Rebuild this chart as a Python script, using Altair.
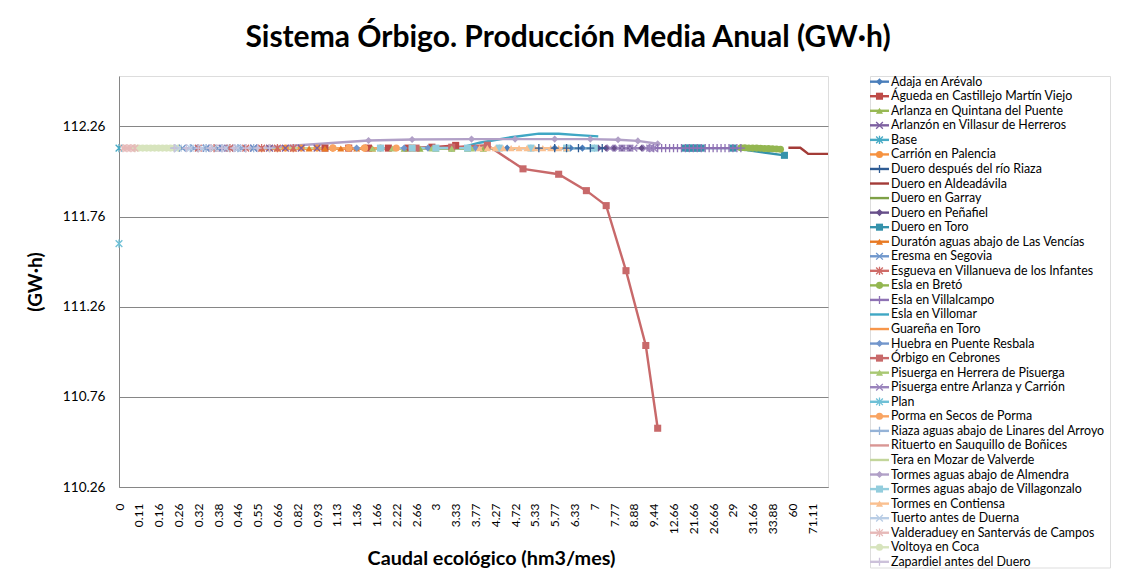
import altair as alt
import pandas as pd

# ---------------- data ----------------
series = [
    "Adaja en Arévalo", "Águeda en Castillejo Martín Viejo", "Arlanza en Quintana del Puente",
    "Arlanzón en Villasur de Herreros", "Base", "Carrión en Palencia",
    "Duero después del río Riaza", "Duero en Aldeadávila", "Duero en Garray",
    "Duero en Peñafiel", "Duero en Toro", "Duratón aguas abajo de Las Vencías",
    "Eresma en Segovia", "Esgueva en Villanueva de los Infantes", "Esla en Bretó",
    "Esla en Villalcampo", "Esla en Villomar", "Guareña en Toro",
    "Huebra en Puente Resbala", "Órbigo en Cebrones", "Pisuerga en Herrera de Pisuerga",
    "Pisuerga entre Arlanza y Carrión", "Plan", "Porma en Secos de Porma",
    "Riaza aguas abajo de Linares del Arroyo", "Rituerto en Sauquillo de Boñices",
    "Tera en Mozar de Valverde", "Tormes aguas abajo de Almendra",
    "Tormes aguas abajo de Villagonzalo", "Tormes en Contiensa", "Tuerto antes de Duerna",
    "Valderaduey en Santervás de Campos", "Voltoya en Coca", "Zapardiel antes del Duero",
]

colores = [
    "#4A7EBB", "#BE4B48", "#98B954", "#7D60A0", "#46AAC5", "#F69240",
    "#2F5C94", "#A33B37", "#7EA046", "#674F8A", "#3592AB", "#E87A24",
    "#6F97CC", "#CF6B67", "#93B650", "#8E72B4", "#3FA7C4", "#F7964A",
    "#7296CC", "#C8696A", "#A9C873", "#9A84BC", "#6FC0D6", "#F9A462",
    "#95B3D7", "#D99694", "#C3D69B", "#B1A0C7", "#93CDDD", "#FAC090",
    "#B9CDE5", "#E6B9B8", "#D7E4BD", "#CCC1DA",
]

marcadores = [
    "diamond", "square", "triangle", "x", "asterisk", "circle", "plus", "dash", "none",
    "diamond", "square", "triangle", "x", "asterisk", "circle", "plus", "dash", "none",
    "diamond", "square", "triangle", "x", "asterisk", "circle", "plus", "dash", "none",
    "diamond", "square", "triangle", "x", "asterisk", "circle", "plus",
]

# category position (index on the category axis) of each point of each series
indices = [
    [98, 104, 110, 114, 117, 120],
    [52, 58, 63, 68, 73, 79, 85],
    [72, 76, 80, 84, 88, 92],
    [22, 26, 30, 34, 38, 42, 46, 50],
    [0],
    [38, 42, 46, 50, 54, 58, 62],
    [106, 110, 113, 116, 119, 122],
    [169, 170, 171, 172, 173, 174, 175, 176, 177, 178, 179],
    [78, 84, 90, 96, 100],
    [121, 123, 125, 127, 129, 132],
    [143, 144, 145, 146, 147, 155, 168],
    [36, 40, 44, 48, 52, 56, 60, 64],
    [16, 19, 22, 25, 28, 31, 34],
    [20, 24, 28, 32, 36, 40, 44],
    [157, 158, 159, 160, 161, 162, 163, 164, 165, 166, 167],
    [134, 135, 136, 137, 138, 139, 140, 141, 142, 143, 144, 145, 146, 147, 148, 149,
     150, 151, 152, 153, 154, 155, 156, 157],
    [60, 75, 87, 91, 99, 106, 111, 116, 121],
    [40, 50, 60, 70, 80, 90],
    [60, 66, 72, 78, 84, 90, 96],
    [75, 84, 93, 102, 111, 118, 123, 128, 133, 136],
    [64, 69, 74, 79, 84, 89],
    [124, 126, 127, 128, 129, 130, 133, 134, 135],
    [0],
    [54, 58, 62, 66, 70, 74],
    [14, 18, 22, 26, 30, 34, 38],
    [15, 25, 35, 45],
    [15, 25, 35, 45, 55],
    [15, 27, 38, 63, 74, 89, 100, 110, 119, 126, 131, 136],
    [66, 74, 80, 88, 96, 104, 113, 120],
    [91, 93, 95, 97, 99, 101, 103, 105, 107, 109, 111, 113],
    [15, 18, 21, 24, 27, 30],
    [1, 2, 3, 4],
    [4, 5, 6, 7, 8, 9, 10, 11, 12, 13, 14, 15],
    [14, 17, 20, 23, 26, 29, 32, 35, 38],
]

valores = [
    [112.14, 112.14, 112.14, 112.14, 112.14, 112.14],
    [112.14, 112.14, 112.14, 112.14, 112.14, 112.145, 112.155],
    [112.137, 112.137, 112.137, 112.137, 112.137, 112.137],
    [112.14, 112.14, 112.14, 112.14, 112.14, 112.14, 112.14, 112.14],
    [112.14],
    [112.14, 112.14, 112.14, 112.14, 112.14, 112.14, 112.14],
    [112.14, 112.14, 112.14, 112.14, 112.14, 112.14],
    [112.142, 112.142, 112.142, 112.142, 112.125, 112.108, 112.108, 112.108, 112.108,
     112.108, 112.108],
    [112.138, 112.138, 112.138, 112.138, 112.138],
    [112.14, 112.14, 112.14, 112.14, 112.14, 112.14],
    [112.14, 112.14, 112.14, 112.14, 112.14, 112.14, 112.10],
    [112.138, 112.138, 112.138, 112.138, 112.138, 112.138, 112.138, 112.138],
    [112.14, 112.14, 112.14, 112.14, 112.14, 112.14, 112.14],
    [112.14, 112.14, 112.14, 112.14, 112.14, 112.14, 112.14],
    [112.142, 112.142, 112.141, 112.14, 112.14, 112.139, 112.138, 112.137, 112.136,
     112.135, 112.134],
    [112.14, 112.14, 112.14, 112.14, 112.14, 112.14, 112.14, 112.14, 112.14, 112.14,
     112.14, 112.14, 112.14, 112.14, 112.14, 112.14, 112.14, 112.14, 112.14, 112.14,
     112.14, 112.14, 112.14, 112.14],
    [112.14, 112.14, 112.147, 112.17, 112.2, 112.22, 112.22, 112.212, 112.205],
    [112.14, 112.14, 112.14, 112.14, 112.14, 112.14],
    [112.14, 112.14, 112.14, 112.14, 112.14, 112.14, 112.14],
    [112.14, 112.145, 112.156, 112.025, 111.995, 111.904, 111.821, 111.46, 111.045, 110.586],
    [112.138, 112.138, 112.138, 112.138, 112.138, 112.138],
    [112.14, 112.14, 112.14, 112.14, 112.14, 112.14, 112.14, 112.14, 112.14],
    [111.61],
    [112.14, 112.14, 112.14, 112.14, 112.14, 112.14],
    [112.14, 112.14, 112.14, 112.14, 112.14, 112.14, 112.14],
    [112.14, 112.14, 112.14, 112.14],
    [112.14, 112.14, 112.14, 112.14, 112.14],
    [112.14, 112.14, 112.145, 112.182, 112.188, 112.19, 112.19, 112.19, 112.19, 112.186,
     112.18, 112.164],
    [112.14, 112.14, 112.14, 112.14, 112.14, 112.14, 112.14, 112.14],
    [112.14, 112.14, 112.14, 112.14, 112.14, 112.14, 112.14, 112.14, 112.14, 112.14,
     112.14, 112.14],
    [112.14, 112.14, 112.14, 112.14, 112.14, 112.14],
    [112.14, 112.14, 112.14, 112.14],
    [112.14, 112.14, 112.14, 112.14, 112.14, 112.14, 112.14, 112.14, 112.14, 112.14,
     112.14, 112.14],
    [112.14, 112.14, 112.14, 112.14, 112.14, 112.14, 112.14, 112.14, 112.14],
]

# visible category labels (every 5th category)
etiquetas_x = [
    "0", "0.11", "0.16", "0.26", "0.32", "0.38", "0.46", "0.55", "0.66", "0.82", "0.93",
    "1.13", "1.36", "1.66", "2.22", "2.66", "3", "3.33", "3.77", "4.27", "4.72", "5.33",
    "5.77", "6.33", "7", "7.77", "8.88", "9.44", "12.66", "21.66", "26.66", "29", "31.66",
    "33.88", "60", "71.11",
]
n_categorias = 180
ticks_y = [110.26, 110.76, 111.26, 111.76, 112.26]

# ---------------- build tables ----------------
rows = []
for k, s in enumerate(series):
    for p, v in zip(indices[k], valores[k]):
        rows.append({"serie": s, "orden": k, "pos": p, "valor": v, "marcador": marcadores[k]})
df = pd.DataFrame(rows)
df_leg = pd.DataFrame({"serie": series, "orden": list(range(len(series))), "marcador": marcadores})

X_PATH = "M-1,-1L1,1M-1,1L1,-1"
AST_PATH = "M-1,-1L1,1M-1,1L1,-1M0,-1.25L0,1.25"
PLUS_PATH = "M-1.2,0L1.2,0M0,-1.2L0,1.2"
shape_map = {
    "diamond": "diamond", "square": "square", "triangle": "triangle-up", "circle": "circle",
    "x": X_PATH, "asterisk": AST_PATH, "plus": PLUS_PATH, "dash": "circle", "none": "circle",
}
shape_range = [shape_map[m] for m in marcadores]
FILLED = ["diamond", "square", "triangle", "circle"]
STROKED = ["x", "asterisk", "plus"]

color_scale = alt.Scale(domain=series, range=colores)
shape_scale = alt.Scale(domain=series, range=shape_range)
color_enc = alt.Color("serie:N", scale=color_scale, legend=None)
shape_enc = alt.Shape("serie:N", scale=shape_scale, legend=None)

FONT = "Lato"
label_expr = "[" + ",".join("'" + e + "'" for e in etiquetas_x) + "][round(datum.value / 5)]"

x_enc = alt.X(
    "pos:Q",
    scale=alt.Scale(domain=[0, n_categorias - 1], nice=False, zero=False),
    axis=alt.Axis(
        values=list(range(0, n_categorias, 5)), labelExpr=label_expr, labelAngle=270,
        ticks=False, grid=False, labelPadding=16, labelFontSize=12, labelFont=FONT,
        labelColor="#000000", domainColor="#868686", domainWidth=1,
        title="Caudal ecológico (hm3/mes)", titleFont=FONT, titleFontSize=19.8,
        titleFontWeight="bold", titleColor="#000000", titleX=372, titleY=71,
        titleBaseline="middle", titleAlign="center",
    ),
)
y_enc = alt.Y(
    "valor:Q",
    scale=alt.Scale(domain=[110.26, 112.54], nice=False, zero=False),
    axis=alt.Axis(
        values=ticks_y, format=".2f", ticks=False, labelPadding=14, labelFontSize=13.6,
        labelFont=FONT, labelColor="#000000", grid=True, gridColor="#868686", gridWidth=1,
        domainColor="#868686", domainWidth=1,
        title="(GW·h)", titleFont=FONT, titleFontSize=19, titleFontWeight="bold",
        titleColor="#000000", titleX=-84, titleY=205.5, titleBaseline="middle",
        titleAlign="center",
    ),
)

base = alt.Chart(df).encode(x=x_enc, y=y_enc)
lines = base.mark_line(strokeWidth=2.4).encode(color=color_enc, order="pos:Q")
pts_fill = base.transform_filter(
    alt.FieldOneOfPredicate(field="marcador", oneOf=FILLED)
).mark_point(filled=True, size=50, opacity=1).encode(color=color_enc, shape=shape_enc)
pts_stroke = base.transform_filter(
    alt.FieldOneOfPredicate(field="marcador", oneOf=STROKED)
).mark_point(filled=False, size=45, opacity=1, strokeWidth=1.3).encode(color=color_enc, shape=shape_enc)

main = alt.layer(lines, pts_fill, pts_stroke).properties(width=709, height=411)

# ---------------- legend panel ----------------
leg_y = alt.Y("serie:N", scale=alt.Scale(type="point", domain=series, padding=0.39), axis=None)
leg_base = alt.Chart(df_leg).encode(y=leg_y)
leg_rule = leg_base.mark_rule(strokeWidth=2.4).encode(
    x=alt.value(0), x2=alt.value(19), color=color_enc
)
leg_fill = leg_base.transform_filter(
    alt.FieldOneOfPredicate(field="marcador", oneOf=FILLED)
).mark_point(filled=True, size=50, opacity=1).encode(x=alt.value(9.5), color=color_enc, shape=shape_enc)
leg_stroke = leg_base.transform_filter(
    alt.FieldOneOfPredicate(field="marcador", oneOf=STROKED)
).mark_point(filled=False, size=45, opacity=1, strokeWidth=1.3).encode(
    x=alt.value(9.5), color=color_enc, shape=shape_enc
)
leg_text = leg_base.mark_text(
    align="left", baseline="middle", font=FONT, fontSize=12.4, color="#000000"
).encode(x=alt.value(21), text="serie:N")
legend = alt.layer(leg_rule, leg_fill, leg_stroke, leg_text).properties(width=240, height=491.5)

chart = alt.hconcat(main, legend, spacing=34).properties(
    title=alt.Title(
        "Sistema Órbigo. Producción Media Anual (GW·h)", font=FONT, fontSize=30,
        fontWeight="bold", color="#000000", anchor="middle", offset=22,
    ),
    padding={"left": 17, "top": 15, "right": 5, "bottom": 5},
).configure_view(stroke="transparent").configure(font=FONT, background="#ffffff")

chart.save("out.html", embed_options={"renderer": "svg", "actions": False})
